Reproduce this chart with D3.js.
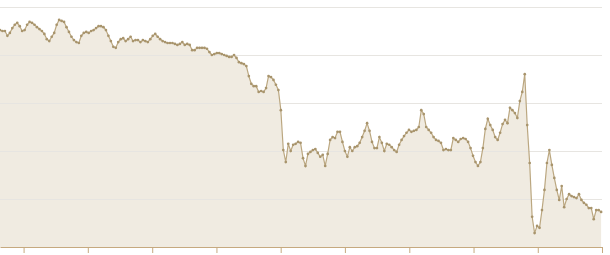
<!DOCTYPE html>
<meta charset="utf-8">
<style>
body { margin: 0; background: #fff; }
.grid line { stroke: #e7e5e1; stroke-width: 1; }
.grid path { display: none; }
.area { fill: #f0ebe1; }
.line { fill: none; stroke: #bba780; stroke-width: 1.2; }
.dot { fill: #a8946c; }
.x-axis path, .x-axis line { stroke: #c6a97f; }
</style>
<svg width="610" height="255"></svg>
<script src="https://d3js.org/d3.v7.min.js"></script>
<script>
  // fortnightly readings, starting 20 Aug 2006
  var startDate = new Date(2006, 7, 20);
  var endDate = new Date(2016, 0, 1);
  var stepDays = 14;

  var values = [
    45.2, 45.0, 45.0, 44.0, 44.6, 45.6, 46.3, 46.7, 46.0, 45.0,
    45.2, 46.3, 46.9, 46.7, 46.3, 45.8, 45.4, 45.0, 44.4, 43.3,
    42.9, 43.8, 44.6, 46.3, 47.3, 47.1, 46.9, 45.8, 44.8, 43.8,
    43.1, 42.7, 42.5, 44.0, 44.6, 44.8, 44.6, 45.0, 45.2, 45.6,
    46.0, 46.0, 45.8, 45.2, 44.0, 42.9, 41.7, 41.5, 42.7, 43.3,
    43.5, 42.9, 43.3, 43.8, 42.9, 43.1, 43.1, 42.7, 43.1, 42.9,
    42.7, 43.3, 44.0, 44.4, 43.8, 43.3, 42.9, 42.7, 42.5, 42.5,
    42.5, 42.3, 42.1, 42.3, 42.7, 42.1, 42.3, 42.1, 41.0, 41.0,
    41.5, 41.5, 41.5, 41.5, 41.3, 40.6, 40.0, 40.2, 40.4, 40.4,
    40.2, 40.0, 39.8, 39.6, 39.6, 40.0, 39.4, 38.5, 38.3, 38.1,
    37.7, 35.6, 34.0, 33.5, 33.5, 32.3, 32.5, 32.3, 33.1, 35.6,
    35.4, 34.8, 33.8, 32.7, 28.5, 20.2, 17.7, 21.5, 20.0, 21.3,
    21.5, 21.9, 21.7, 18.5, 16.9, 19.4, 19.8, 20.2, 20.4, 19.6,
    18.8, 19.2, 16.9, 19.4, 22.3, 22.9, 22.7, 24.0, 24.0, 21.9,
    20.0, 18.8, 20.8, 20.0, 20.8, 21.0, 21.7, 22.9, 24.2, 25.8,
    24.2, 21.9, 20.6, 20.6, 22.9, 21.7, 20.0, 21.5, 21.3, 20.8,
    20.2, 19.8, 21.3, 22.3, 23.1, 23.8, 24.4, 24.0, 24.2, 24.4,
    25.0, 28.5, 27.7, 25.0, 24.4, 23.8, 22.9, 22.3, 22.1, 21.7,
    20.2, 20.4, 20.2, 20.2, 22.7, 22.3, 21.9, 22.5, 22.7, 22.5,
    21.9, 20.6, 19.0, 17.7, 16.9, 17.7, 20.6, 24.6, 26.7, 25.4,
    24.4, 22.9, 22.3, 23.8, 25.6, 26.5, 25.8, 29.0, 28.5, 27.9,
    26.9, 30.4, 32.3, 36.0, 25.4, 17.5, 6.3, 2.9, 4.4, 4.0,
    7.7, 11.9, 17.5, 20.2, 17.1, 14.4, 11.9, 9.8, 12.7, 8.3,
    10.0, 11.0, 10.6, 10.4, 10.2, 11.0, 9.8, 9.2, 8.8, 8.1,
    8.1, 5.8, 7.7, 7.7, 7.3
  ];

  var yTicks = [10, 20, 30, 40, 50];

  var data = values.map(function(v, i) {
    return { date: d3.timeDay.offset(startDate, i * stepDays), value: v };
  });

  var svg = d3.select("svg"),
      margin = {top: 7, right: 8, bottom: 8, left: 0},
      width = +svg.attr("width") - margin.left - margin.right,
      height = +svg.attr("height") - margin.top - margin.bottom,
      g = svg.append("g").attr("transform", "translate(" + margin.left + "," + margin.top + ")");

  var x = d3.scaleTime()
      .domain([startDate, endDate])
      .range([0, width]);

  var y = d3.scaleLinear()
      .domain([0, 50])
      .range([height, 0]);

  var area = d3.area()
      .x(function(d) { return x(d.date); })
      .y0(height)
      .y1(function(d) { return y(d.value); });

  var line = d3.line()
      .x(function(d) { return x(d.date); })
      .y(function(d) { return y(d.value); });

  g.append("path")
      .datum(data)
      .attr("class", "area")
      .attr("d", area);

  // gridlines sit over the fill
  g.append("g")
      .attr("class", "grid")
      .call(d3.axisLeft(y).tickValues(yTicks).tickSize(-width).tickFormat(""));

  g.append("path")
      .datum(data)
      .attr("class", "line")
      .attr("d", line);

  g.selectAll(".dot")
      .data(data)
      .enter().append("circle")
      .attr("class", "dot")
      .attr("cx", function(d) { return x(d.date); })
      .attr("cy", function(d) { return y(d.value); })
      .attr("r", 1.35);

  g.append("g")
      .attr("class", "x-axis")
      .attr("transform", "translate(0," + height + ")")
      .call(d3.axisBottom(x).ticks(d3.timeYear.every(1)).tickSize(6).tickSizeOuter(0).tickFormat(""));
</script>
